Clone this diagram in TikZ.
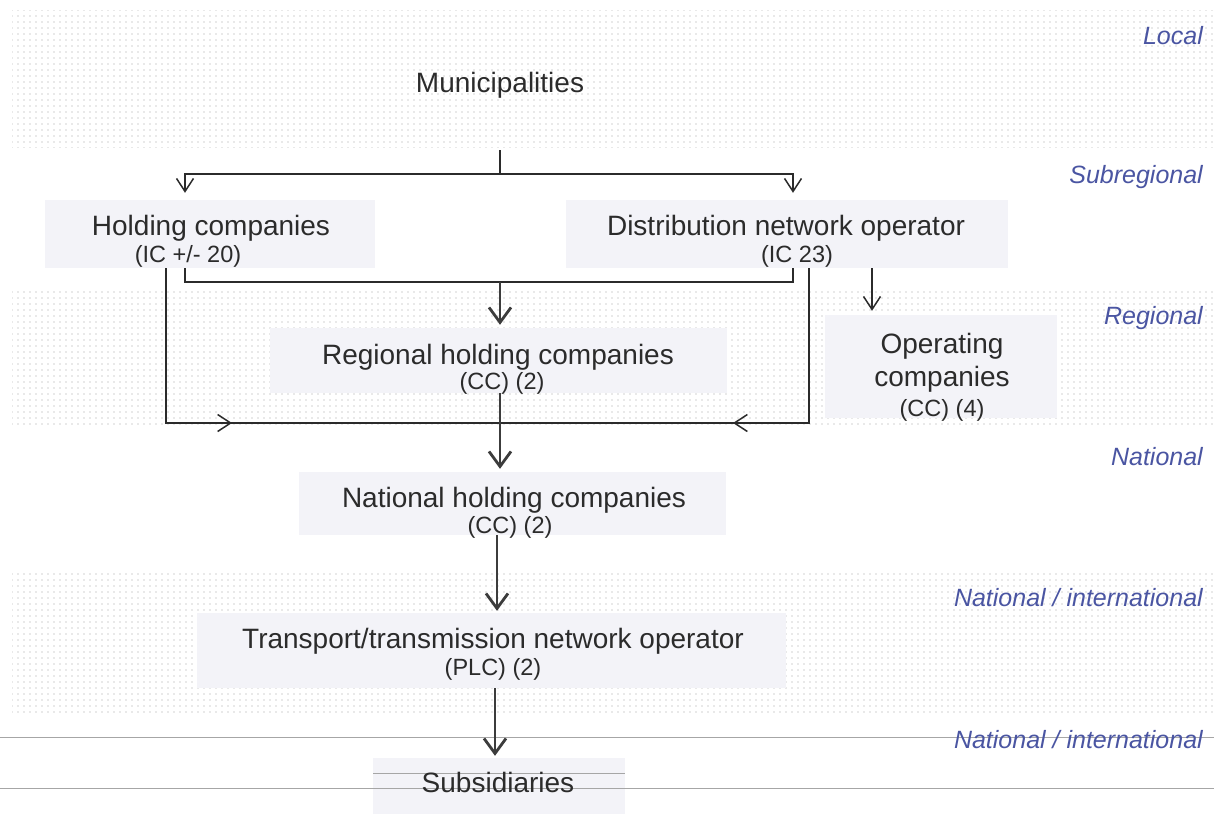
\documentclass[tikz,border=0pt]{standalone}
\usepackage{fontspec}
\setmainfont{Liberation Sans}
\usetikzlibrary{arrows.meta,patterns.meta}
\definecolor{boxfill}{HTML}{F3F3F8}
\definecolor{lvlcol}{HTML}{4A55A2}
\definecolor{ink}{HTML}{2B2B2B}
\definecolor{arr}{HTML}{3C3C3C}
\begin{document}
\begin{tikzpicture}[x=1pt,y=-1pt,
  band/.style={pattern={Dots[distance=6pt,radius=0.9pt]},pattern color=gray!35},
  box/.style={fill=boxfill,draw=none,inner sep=0pt},
  main/.style={font=\fontsize{28}{33}\selectfont,text=ink,inner sep=0pt,anchor=base},
  subt/.style={font=\fontsize{23.5}{28}\selectfont,text=ink,inner sep=0pt,anchor=base},
  lvl/.style={font=\fontsize{25}{30}\selectfont\itshape,text=lvlcol,anchor=base east,inner sep=0pt},
  thinarrow/.style={draw=ink,line width=1.5pt,-{Straight Barb[length=13pt,width=17pt]}},
  thickarrow/.style={draw=arr,line width=2.8pt,-{Straight Barb[length=15pt,width=22pt]}},
  link/.style={draw=ink,line width=1.5pt},
  rulel/.style={draw=gray!70,line width=0.8pt}]

\useasboundingbox (0,0) rectangle (1214,814);

% dotted bands
\path[band] (12,10) rectangle (1214,147);
\path[band] (12,288) rectangle (1214,428);
\path[band] (12,570) rectangle (1214,712);

% horizontal rules
\draw[rulel] (0,737) -- (1214,737);

% boxes
\node[box, minimum width=330pt, minimum height=68pt] (hc) at (210,234) {};
\node[box, minimum width=442pt, minimum height=68pt] (dno) at (787,234) {};
\node[box, minimum width=457pt, minimum height=65pt] (rhc) at (498.5,360.5) {};
\node[box, minimum width=232pt, minimum height=103pt] (oc) at (941,366.5) {};
\node[box, minimum width=427pt, minimum height=63pt] (nhc) at (512.5,503.5) {};
\node[box, minimum width=589pt, minimum height=75pt] (tno) at (491.5,650.5) {};
\node[box, minimum width=252pt, minimum height=56pt] (sub) at (499,786) {};

\draw[rulel] (373,773) -- (625,773);
\draw[rulel] (0,788) -- (1214,788);

% texts
\node[main] (tmun) at (500,92) {Municipalities};
\node[main] (thc) at (211,235) {Holding companies};
\node[subt] (thc2) at (188,262) {(IC +/- 20)};
\node[main] (tdno) at (786,235) {Distribution network operator};
\node[subt] (tdno2) at (797,262) {(IC 23)};
\node[main] (trhc) at (498,364) {Regional holding companies};
\node[subt] (trhc2) at (502,389) {(CC) (2)};
\node[main] (toc1) at (942,353) {Operating};
\node[main] (toc2) at (942,386) {companies};
\node[subt] (toc3) at (942,416) {(CC) (4)};
\node[main] (tnhc) at (514,507) {National holding companies};
\node[subt] (tnhc2) at (510,533) {(CC) (2)};
\node[main] (ttno) at (493,648) {Transport/transmission network operator};
\node[subt] (ttno2) at (493,675) {(PLC) (2)};
\node[main] (tsub) at (498,792) {Subsidiaries};

% level labels
\node[lvl] (l1) at (1203,44) {Local};
\node[lvl] (l2) at (1203,183) {Subregional};
\node[lvl] (l3) at (1203,324) {Regional};
\node[lvl] (l4) at (1203,465) {National};
\node[lvl] (l5) at (1203,606) {National / international};
\node[lvl] (l6) at (1203,748) {National / international};

% connector coordinates
\coordinate (m0) at (500,150);
\coordinate (mj) at (500,174);
\coordinate (hl) at (185,174);
\coordinate (dl) at (793,174);
\coordinate (bj) at (500,282);
\coordinate (lj) at (166,423);
\coordinate (rj) at (809,423);
\coordinate (la) at (232,423);
\coordinate (ra) at (733,423);
\coordinate (oa) at (872,0);
\coordinate (na) at (497,0);
\coordinate (ta) at (495,0);

% municipalities split
\draw[link] (m0) -- (mj);
\draw[thinarrow,shorten >=7pt] (mj) -| (hc.north -| hl);
\draw[thinarrow,shorten >=7pt] (mj) -| (dno.north -| dl);

% bracket below holding / DNO
\draw[link] (hl |- hc.south) -- (hl |- bj) -- (dl |- bj) -- (dl |- dno.south);
\draw[thickarrow,shorten >=3pt] (bj) -- (bj |- rhc.north);

% outer lines to national level
\draw[link] (lj |- hc.south) -- (lj) -- (rj) -- (rj |- dno.south);
\draw[thinarrow] (lj) -- (la);
\draw[thinarrow] (rj) -- (ra);

% DNO -> operating companies
\draw[thinarrow,shorten >=4pt] (dno.south -| oa) -- (oc.north -| oa);

% main chain
\draw[thickarrow,shorten >=3pt] (rhc.south -| bj) -- (nhc.north -| bj);
\draw[thickarrow,shorten >=2pt] (nhc.south -| na) -- (tno.north -| na);
\draw[thickarrow,shorten >=2pt] (tno.south -| ta) -- (sub.north -| ta);
\end{tikzpicture}
\end{document}
